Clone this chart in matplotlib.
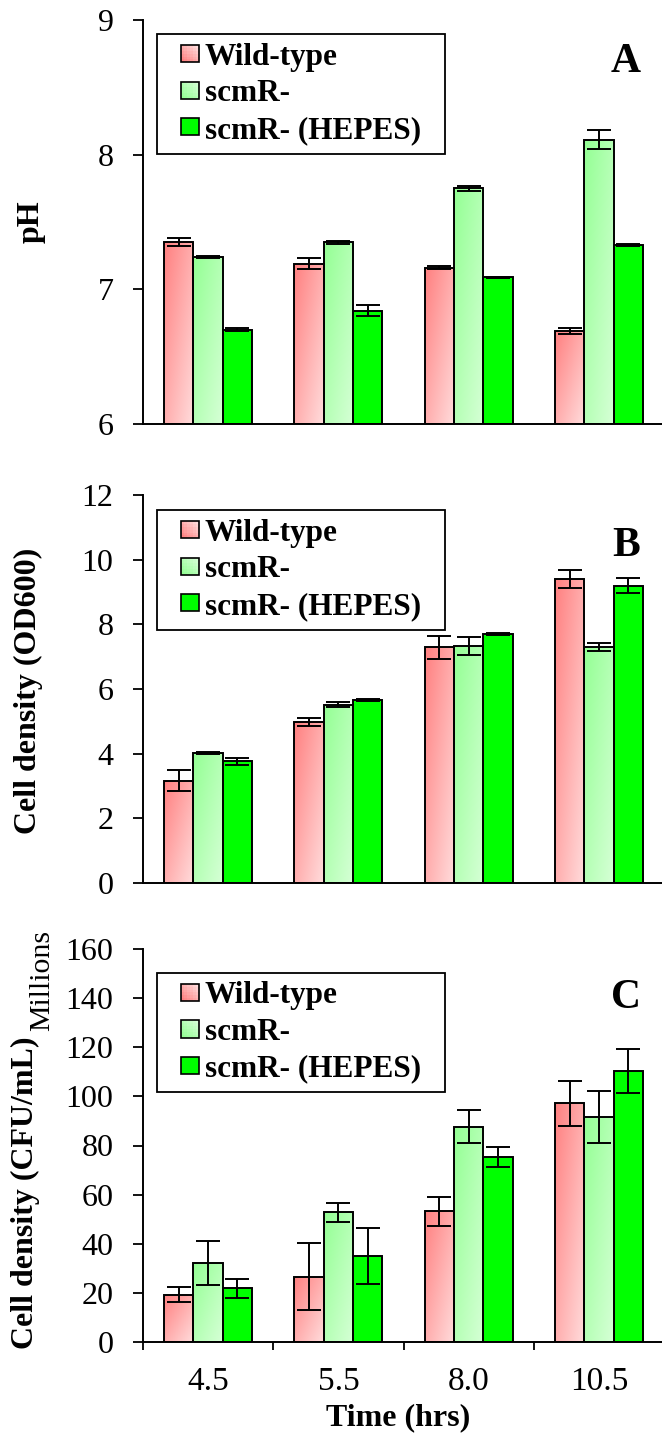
import numpy as np
import matplotlib
matplotlib.use("Agg")
import matplotlib.pyplot as plt
from matplotlib.patches import Rectangle
from matplotlib.legend_handler import HandlerBase
from matplotlib.colors import to_rgb

plt.rcParams['font.family'] = ['Liberation Serif', 'DejaVu Serif']

times = ["4.5", "5.5", "8.0", "10.5"]
strains = ["Wild-type", "scmR-", "scmR- (HEPES)"]

# panel A: pH
ph_wt = [7.35, 7.19, 7.16, 6.69]
ph_scmr = [7.24, 7.35, 7.75, 8.11]
ph_hepes = [6.70, 6.84, 7.09, 7.33]
ph_wt_err = [0.03, 0.04, 0.01, 0.02]
ph_scmr_err = [0.01, 0.01, 0.02, 0.07]
ph_hepes_err = [0.01, 0.04, 0.005, 0.01]

# panel B: OD600
od_wt = [3.16, 4.98, 7.29, 9.40]
od_scmr = [4.02, 5.51, 7.33, 7.29]
od_hepes = [3.76, 5.67, 7.70, 9.20]
od_wt_err = [0.32, 0.13, 0.35, 0.29]
od_scmr_err = [0.03, 0.08, 0.29, 0.13]
od_hepes_err = [0.10, 0.03, 0.03, 0.23]

# panel C: CFU/mL (millions)
cfu_wt = [19.3, 26.6, 53.2, 97.2]
cfu_scmr = [32.2, 52.8, 87.7, 91.6]
cfu_hepes = [21.8, 35.1, 75.3, 110.3]
cfu_wt_err = [3.1, 13.6, 6.0, 9.2]
cfu_scmr_err = [8.8, 3.8, 6.7, 10.6]
cfu_hepes_err = [3.9, 11.4, 4.0, 9.0]

fills = [("#FF8080", "#FFDCDC"), ("#94FF94", "#D6FFD6"), ("#00FF00", "#00FF00")]
bar_w = 0.225


def gradient_rgb(c0, c1, nx=32, ny=64):
    u = np.linspace(0, 1, nx)
    v = np.linspace(1, 0, ny)
    U, V = np.meshgrid(u, v)
    t = ((U + (1 - V)) / 2)[..., None]
    a, b = np.array(to_rgb(c0)), np.array(to_rgb(c1))
    return a * (1 - t) + b * t


class GradientHandler(HandlerBase):
    def create_artists(self, legend, orig_handle, xdescent, ydescent,
                       width, height, fontsize, trans):
        c0, c1 = orig_handle.grad
        side = 0.55 * fontsize
        x0 = -xdescent + width - side
        y0 = -ydescent + (height - side) / 2
        n = 6
        arts = []
        a, b = np.array(to_rgb(c0)), np.array(to_rgb(c1))
        for i in range(n):
            for j in range(n):
                t = (i + (n - 1 - j)) / (2 * (n - 1))
                r = Rectangle((x0 + i * side / n, y0 + (n - 1 - j) * side / n),
                              side / n * 1.05, side / n * 1.05,
                              facecolor=a * (1 - t) + b * t, edgecolor="none",
                              antialiased=False, transform=trans)
                arts.append(r)
        arts.append(Rectangle((x0, y0), side, side, facecolor="none",
                              edgecolor="black", lw=1.2, transform=trans))
        return arts


def draw_panel(ax, series, errors, base, ylim, yticks, ylabel, letter,
               leg_top, letter_y):
    x = np.arange(len(times))
    for k, (vals, errs) in enumerate(zip(series, errors)):
        pos = x + (k - 1) * bar_w
        heights = np.array(vals) - base
        bars = ax.bar(pos, heights, bar_w, bottom=base, facecolor="none",
                      edgecolor="black", linewidth=1.4, zorder=3)
        c0, c1 = fills[k]
        for bar in bars:
            bx, by = bar.get_x(), bar.get_y()
            bw, bh = bar.get_width(), bar.get_height()
            img = ax.imshow(gradient_rgb(c0, c1), extent=[bx, bx + bw, by, by + bh],
                            aspect="auto", interpolation="bilinear", zorder=2)
            img.set_clip_path(bar)
        ax.errorbar(pos, vals, yerr=errs, fmt="none", ecolor="black",
                    elinewidth=1.4, capsize=8.4, capthick=1.4, zorder=4)

    ax.set_xlim(-0.5, 3.5)
    ax.set_ylim(*ylim)
    ax.set_yticks(yticks)
    ax.tick_params(axis="y", direction="out", length=7.2, width=1.3,
                   labelsize=23, pad=14)
    for s in ("top", "right"):
        ax.spines[s].set_visible(False)
    for s in ("left", "bottom"):
        ax.spines[s].set_linewidth(1.4)
    ax.set_ylabel(ylabel, fontsize=23, fontweight="bold", va="center")

    proxies = []
    for k, name in enumerate(strains):
        p = Rectangle((0, 0), 1, 1, label=name)
        p.grad = fills[k]
        proxies.append(p)
    leg = ax.legend(handles=proxies, handler_map={Rectangle: GradientHandler()},
                    loc="upper left", bbox_to_anchor=(0.0269, 0, 0.5528, leg_top),
                    mode="expand", borderaxespad=0, borderpad=0.28,
                    handlelength=1.05, handleheight=0.7, handletextpad=0.2,
                    labelspacing=0.24, fancybox=False, framealpha=1,
                    edgecolor="black", prop={"weight": "bold", "size": 22.5})
    leg.get_frame().set_linewidth(1.3)

    ax.text(0.927, letter_y, letter, transform=ax.transAxes, ha="center",
            va="baseline", fontsize=30, fontweight="bold")


fig = plt.figure(figsize=(6.62, 14.35), dpi=100)
left, width = 143 / 662, 521 / 662
axA = fig.add_axes([left, 1 - 424 / 1435, width, 404 / 1435])
axB = fig.add_axes([left, 1 - 883 / 1435, width, 388 / 1435])
axC = fig.add_axes([left, 1 - 1342 / 1435, width, 393 / 1435])

draw_panel(axA, [ph_wt, ph_scmr, ph_hepes], [ph_wt_err, ph_scmr_err, ph_hepes_err],
           6, (6, 9), [6, 7, 8, 9], "pH", "A", 0.9653, 0.871)
draw_panel(axB, [od_wt, od_scmr, od_hepes], [od_wt_err, od_scmr_err, od_hepes_err],
           0, (0, 12), range(0, 13, 2), "Cell density (OD600)", "B", 0.9613, 0.843)
draw_panel(axC, [cfu_wt, cfu_scmr, cfu_hepes], [cfu_wt_err, cfu_scmr_err, cfu_hepes_err],
           0, (0, 160), range(0, 161, 20), "Cell density (CFU/mL)", "C", 0.9397, 0.850)

axA.yaxis.set_label_coords(-0.215, 0.5)
axB.yaxis.set_label_coords(-0.219, 0.494)
axC.yaxis.set_label_coords(-0.225, 0.379)

for ax in (axA, axB):
    ax.tick_params(axis="x", bottom=False, labelbottom=False)

axC.set_xticks(np.arange(len(times)))
axC.set_xticklabels(times)
axC.set_xticks([-0.5, 0.5, 1.5, 2.5, 3.5], minor=True)
axC.tick_params(axis="x", which="major", length=0, labelsize=24, pad=18)
axC.tick_params(axis="x", which="minor", direction="out", length=6, width=1.3)
axC.set_xlabel("Time (hrs)", fontsize=23, fontweight="bold", va="center")
axC.xaxis.set_label_coords(0.49, -0.193)
axC.text(-0.193, 0.919, "Millions", transform=axC.transAxes, rotation=90,
         ha="center", va="center", fontsize=21.5)

fig.savefig("out.png", dpi=100)
